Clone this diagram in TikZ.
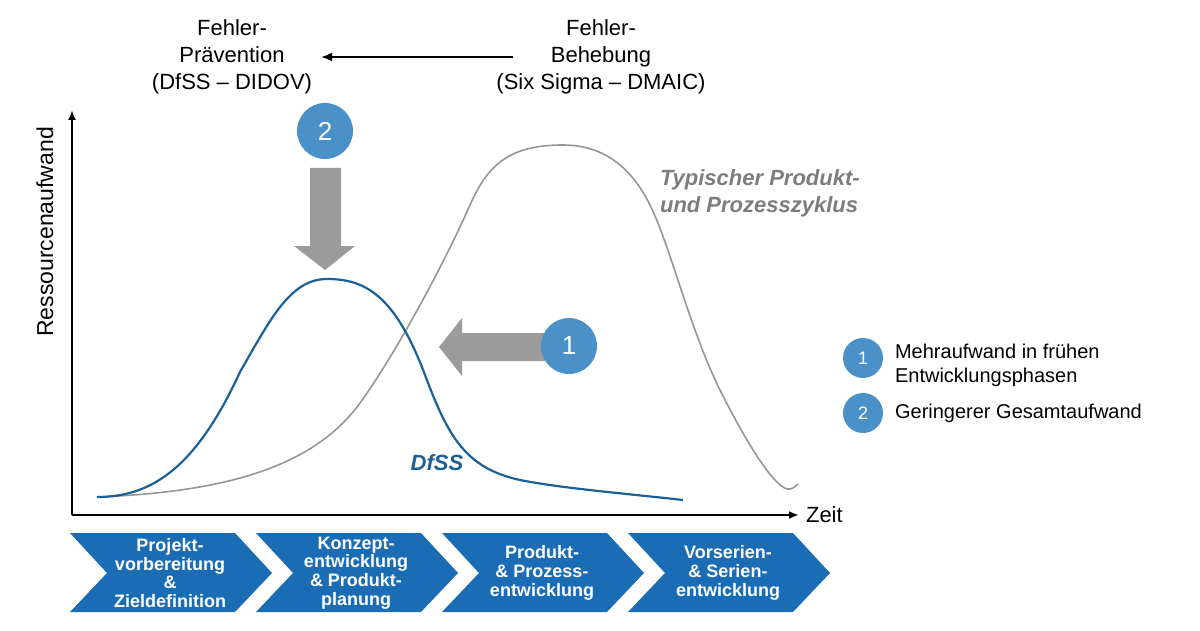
\documentclass[tikz,border=0pt]{standalone}
\usepackage{fontspec}
\setmainfont{Liberation Sans}
\usetikzlibrary{arrows.meta}

\definecolor{phaseblue}{RGB}{26,108,180}
\definecolor{markblue}{RGB}{74,145,201}
\definecolor{dfssblue}{RGB}{28,96,152}
\definecolor{cyclegray}{RGB}{150,150,150}
\definecolor{arrowgray}{RGB}{155,155,155}
\definecolor{labelgray}{RGB}{125,125,125}

\tikzset{
  headtext/.style={align=center, font=\fontsize{11}{13.5}\selectfont},
  marker/.style={circle, fill=markblue, text=white, inner sep=0pt, minimum size=28pt, font=\fontsize{13}{13}\selectfont},
  smallmarker/.style={marker, minimum size=20pt, font=\fontsize{9}{9}\selectfont},
  legendtext/.style={anchor=west, align=left, font=\fontsize{10}{12}\selectfont},
  phase/.style={fill=phaseblue},
  phasetext/.style={align=center, text=white, font=\bfseries\fontsize{9}{9.4}\selectfont},
  axis/.style={line width=1pt, -{Latex[length=5pt,width=4pt]}},
  blockarrow/.style={fill=arrowgray},
}

\begin{document}
\begin{tikzpicture}[x=0.5pt,y=-0.5pt]
\useasboundingbox (0,0) rectangle (1200,631);

% Kopfzeile
\node[headtext] (praevention) at (232,57) {Fehler-\\Prävention\\(DfSS – DIDOV)};
\node[headtext] (behebung) at (601,57) {Fehler-\\Behebung\\(Six Sigma – DMAIC)};
\draw[-{Latex[length=5.5pt,width=4.5pt]}, line width=0.9pt, shorten <=-12pt, shorten >=1pt] (behebung.west) -- (praevention.east);

% Achsen
\coordinate (origin) at (72,515);
\coordinate (ytop) at (72,110);
\coordinate (xend) at (799,515);
\draw[axis] (origin) -- (ytop);
\draw[axis] (origin) -- (xend);
\node[anchor=west, font=\fontsize{11}{11}\selectfont] (zeit) at (xend) {Zeit};
\node[rotate=90, font=\fontsize{11.5}{11.5}\selectfont] (aufwand) at (45,232) {Ressourcenaufwand};

% Kurven
\draw[cyclegray, line width=0.8pt] (97,497) .. controls (230,492) and (315,465) .. (360,403)
  .. controls (395,355) and (445,262) .. (470,205)
  .. controls (488,164) and (510,145) .. (563,145)
  .. controls (610,145) and (635,175) .. (650,205)
  .. controls (670,245) and (690,330) .. (720,390)
  .. controls (750,450) and (778,492) .. (790,489)
  .. controls (794,488) and (796,486) .. (798,484);
\draw[dfssblue, line width=1.1pt] (97,497) .. controls (150,497) and (195,470) .. (240,372)
  .. controls (270,320) and (290,279) .. (327,279)
  .. controls (365,279) and (395,295) .. (425,375)
  .. controls (448,436) and (465,468) .. (520,480)
  .. controls (560,488) and (620,493) .. (683,500);
\node[text=labelgray, anchor=west, align=left, font=\bfseries\itshape\fontsize{11}{13.5}\selectfont] (zyklus) at (653,193) {Typischer Produkt-\\und Prozesszyklus};
\node[text=dfssblue, font=\bfseries\itshape\fontsize{11}{11}\selectfont] (dfss) at (437,463) {DfSS};

% Blockpfeile
\fill[blockarrow] (310,168) -- (341,168) -- (341,246) -- (355,246) -- (325,270) -- (294,246) -- (310,246) -- cycle;
\fill[blockarrow] (545,333) -- (462,333) -- (462,318) -- (439,347) -- (462,376) -- (462,361) -- (545,361) -- cycle;
\node[marker] (m2) at (325,131) {2};
\node[marker] (m1) at (569,346) {1};

% Legende
\node[smallmarker] (l1) at (863,358) {1};
\node[smallmarker] (l2) at (863,413) {2};
\node[legendtext] (l1text) at (888,365) {Mehraufwand in frühen\\Entwicklungsphasen};
\node[legendtext] (l2text) at (888,413) {Geringerer Gesamtaufwand};

% Phasen
\foreach \i/\txt in {0/{Projekt-\\vorbereitung\\\&\\Zieldefinition}, 1/{Konzept-\\entwicklung\\\& Produkt-\\planung}, 2/{Produkt-\\\& Prozess-\\entwicklung}, 3/{Vorserien-\\\& Serien-\\entwicklung}} {
  \pgfmathsetmacro\xa{70+186*\i}
  \fill[phase] (\xa,533) -- ++(165,0) -- ++(37,40) -- ++(-37,39) -- ++(-165,0) -- ++(37,-39) -- cycle;
  \node[phasetext] (phase\i) at (\xa+100,573) {\txt};
}
\end{tikzpicture}
\end{document}
